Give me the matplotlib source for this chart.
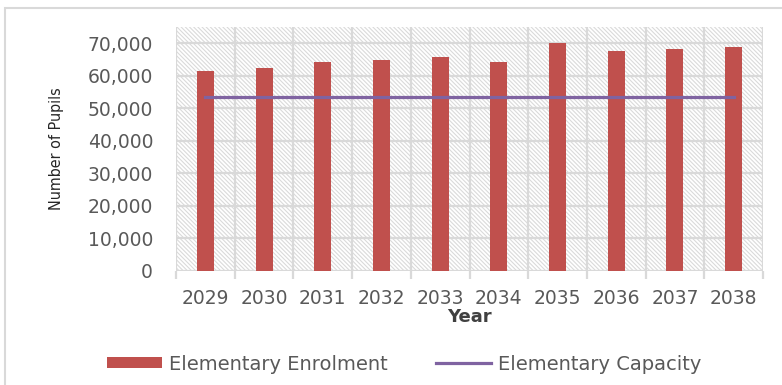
import matplotlib
matplotlib.use("Agg")
import matplotlib.pyplot as plt
from matplotlib.patches import Rectangle, Patch
from matplotlib.lines import Line2D
import numpy as np

years = ["2029", "2030", "2031", "2032", "2033", "2034", "2035", "2036", "2037", "2038"]
enrolment = [61500, 62300, 64200, 64900, 65700, 64200, 70000, 67500, 68100, 68800]
capacity = [53500] * 10
y_ticks = [0, 10000, 20000, 30000, 40000, 50000, 60000, 70000]

bar_color = "#C0504D"
line_color = "#7F63A1"
grid_color = "#D9D9D9"
text_color = "#595959"

plt.rcParams['font.family'] = ['DejaVu Sans']
plt.rcParams['hatch.linewidth'] = 0.8

fig = plt.figure(figsize=(7.82, 3.85), dpi=100)
ax = fig.add_axes([176/782, 114/385, 587/782, 244/385])

x = np.arange(len(years))

# hatched background
bg = Rectangle((0, 0), 1, 1, transform=ax.transAxes, facecolor="white",
               edgecolor="#DADADA", hatch="\\\\\\\\\\\\\\\\", lw=0, zorder=0)
ax.add_patch(bg)

ax.bar(x, enrolment, width=0.29, color=bar_color, zorder=3, label="Elementary Enrolment")
ax.plot(x, capacity, color=line_color, lw=2.3, zorder=4, label="Elementary Capacity")

ax.set_xlim(-0.5, len(years) - 0.5)
ax.set_ylim(0, 75000)
ax.set_yticks(y_ticks)
ax.set_yticklabels([f"{v:,}" for v in y_ticks])
ax.set_xticks(x)
ax.set_xticklabels(years)
ax.set_xticks(np.arange(-0.5, len(years)), minor=True)

ax.grid(axis="y", which="major", color=grid_color, lw=1.6, zorder=1)
ax.grid(axis="x", which="minor", color=grid_color, lw=1.6, zorder=1)
ax.grid(axis="x", which="major", visible=False)
ax.set_axisbelow(True)

for s in ax.spines.values():
    s.set_visible(False)

ax.tick_params(axis="y", length=0, pad=16.5, labelsize=13.5, labelcolor=text_color)
ax.tick_params(axis="x", which="major", length=0, pad=13, labelsize=13.5, labelcolor=text_color)
ax.tick_params(axis="x", which="minor", length=6, width=1.6, color=grid_color)

ax.set_ylabel("Number of Pupils", fontstretch="condensed",
              fontsize=11.5, color="#262626")
ax.yaxis.set_label_coords(-0.2044, 0.5)
ax.yaxis.label.set_va("center")

ax.set_xlabel("Year", fontsize=13, fontweight="bold", color="#404040")
ax.xaxis.set_label_coords(0.5, -0.1885)
ax.xaxis.label.set_va("center")

handles = [Patch(facecolor=bar_color, edgecolor="none"),
           Line2D([0], [0], color=line_color, lw=2.3)]
fig.legend(handles, ["Elementary Enrolment", "Elementary Capacity"],
           loc="center", bbox_to_anchor=(0.517, 0.0545), ncol=2, frameon=False,
           fontsize=14, handlelength=2.8, handleheight=0.5, handletextpad=0.36,
           columnspacing=2.5, labelcolor=text_color)

# outer chart border
border = Rectangle((5/782, -0.1), 1.2, 0.1 + (1 - 8/385), transform=fig.transFigure,
                   facecolor="none", edgecolor=grid_color, lw=1.5, zorder=0)
fig.patches.append(border)

fig.savefig("out.png", dpi=100)
